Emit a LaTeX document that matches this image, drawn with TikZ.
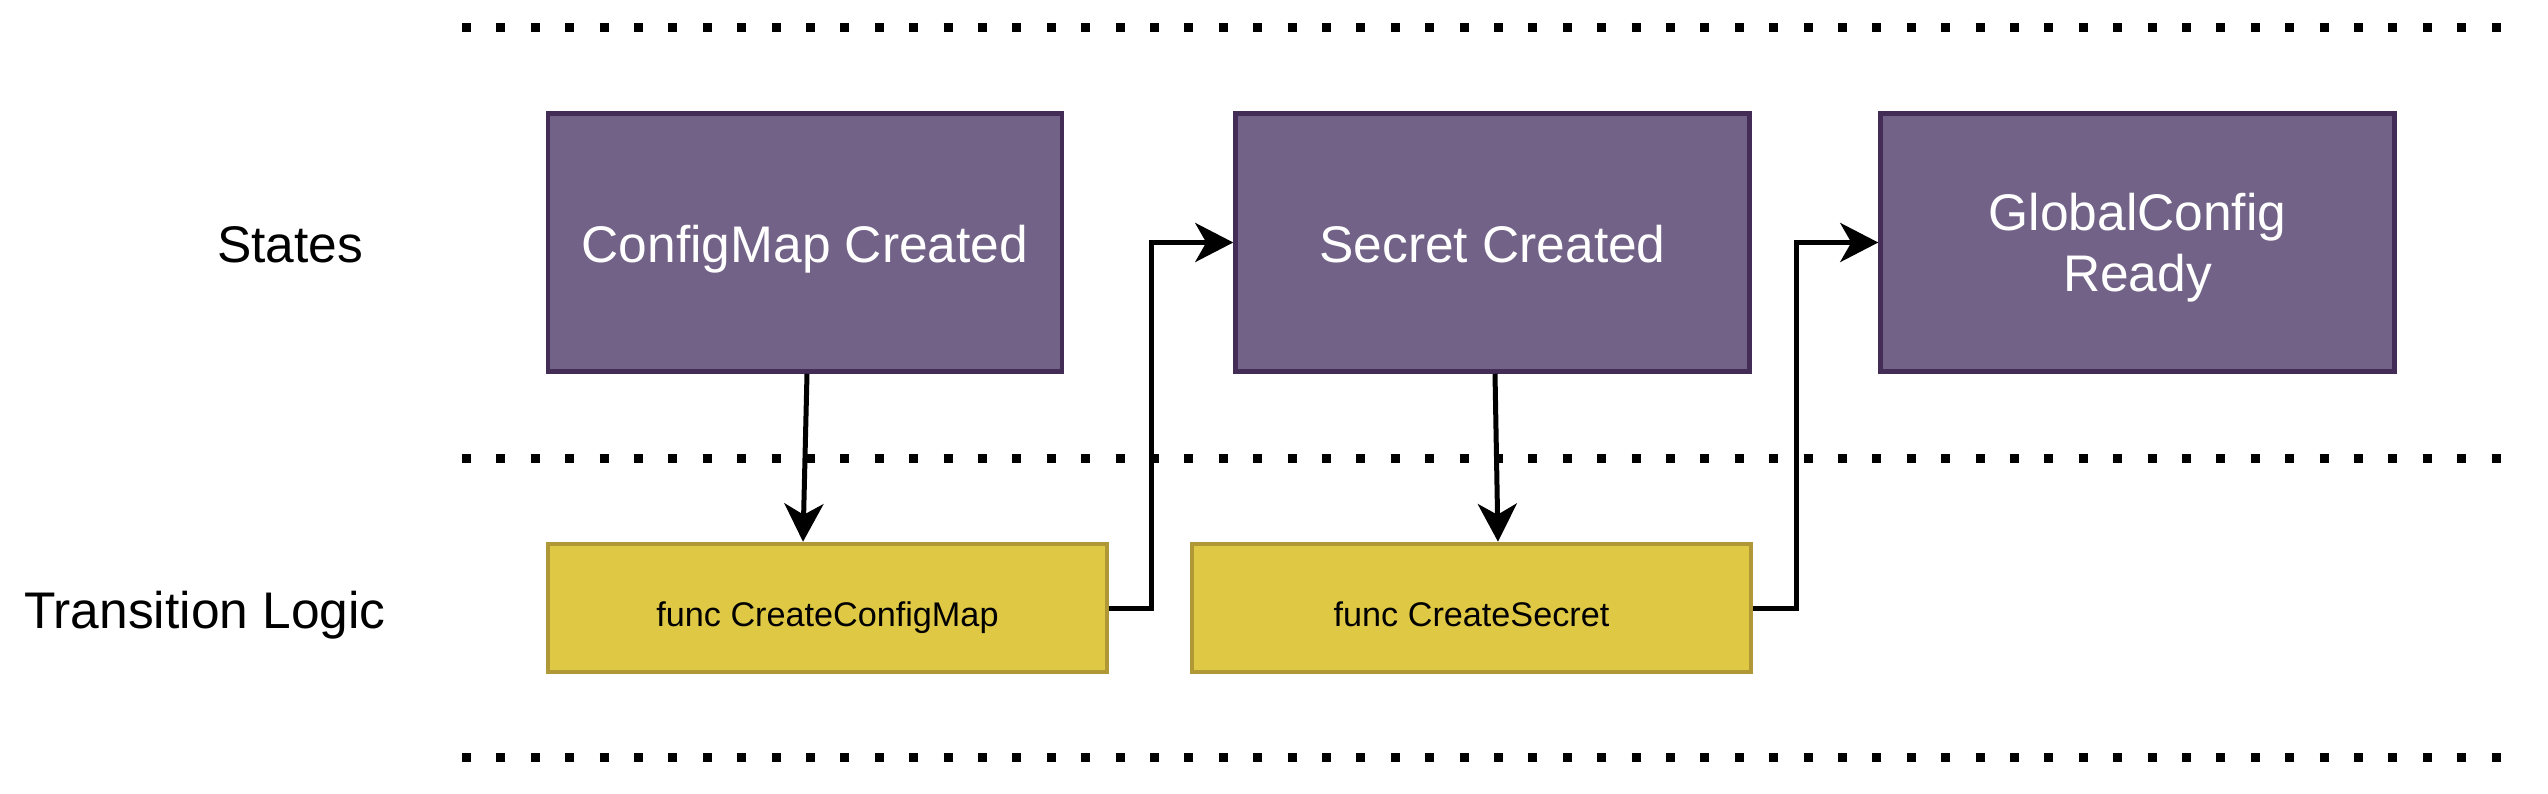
\documentclass[tikz,border=0pt]{standalone}
\usepackage{fontspec}
\setmainfont{Liberation Sans}
\usetikzlibrary{arrows.meta,calc}
\definecolor{stfill}{HTML}{726287}
\definecolor{stdraw}{HTML}{432D57}
\definecolor{fnfill}{HTML}{DFC843}
\definecolor{fndraw}{HTML}{AF9835}
\begin{document}
\begin{tikzpicture}[x=1pt,y=-1pt,
  statebox/.style={draw=stdraw, fill=stfill, line width=4.5pt, minimum width=514pt, minimum height=258pt,
    text=white, font=\fontsize{51.5}{61}\selectfont, align=center, inner sep=0pt},
  funcbox/.style={draw=fndraw, fill=fnfill, line width=4.5pt, minimum width=559pt, minimum height=128pt,
    font=\fontsize{34.2}{40}\selectfont, text height=37.5pt, text depth=0pt, inner sep=0pt},
  lanelabel/.style={font=\fontsize{51.5}{61}\selectfont, text height=36.9pt, text depth=0pt, inner sep=0pt},
  sep/.style={line width=9pt, dash pattern=on 9pt off 25.4pt},
  flow/.style={line width=5pt, -{Stealth[length=38pt,width=39pt,inset=11pt]}}
]
\useasboundingbox (0,0) rectangle (2548,794);

% lane separators
\draw[sep] (462,27.5) -- (2501,27.5);
\draw[sep] (462,458) -- (2501,458);
\draw[sep] (462,757) -- (2501,757);

% lane labels
\node[lanelabel] (lstates) at (290,244) {States};
\node[lanelabel] (llogic) at (205,610) {Transition Logic};

% states
\node[statebox, text height=40pt, text depth=0pt] (s1) at (805,242.5) {ConfigMap Created};
\node[statebox, text height=40pt, text depth=0pt] (s2) at (1492.5,242.5) {Secret Created};
\node[statebox, text depth=0pt] (s3) at (2137.5,242.5) {GlobalConfig\\Ready};

% transition functions
\node[funcbox] (f1) at (827.5,608) {func CreateConfigMap};
\node[funcbox] (f2) at (1471.5,608) {func CreateSecret};

% connectors
\draw[flow] ([xshift=2pt]s1.south) -- ([xshift=-2pt]s1.south |- f1.north);
\draw[flow] ([xshift=2.5pt]s2.south) -- ([xshift=5.5pt]s2.south |- f2.north);
\draw[flow] (f1.east) -- ++(42,0) |- (s2.west);
\draw[flow] (f2.east) -- ++(43,0) |- (s3.west);
\end{tikzpicture}
\end{document}
